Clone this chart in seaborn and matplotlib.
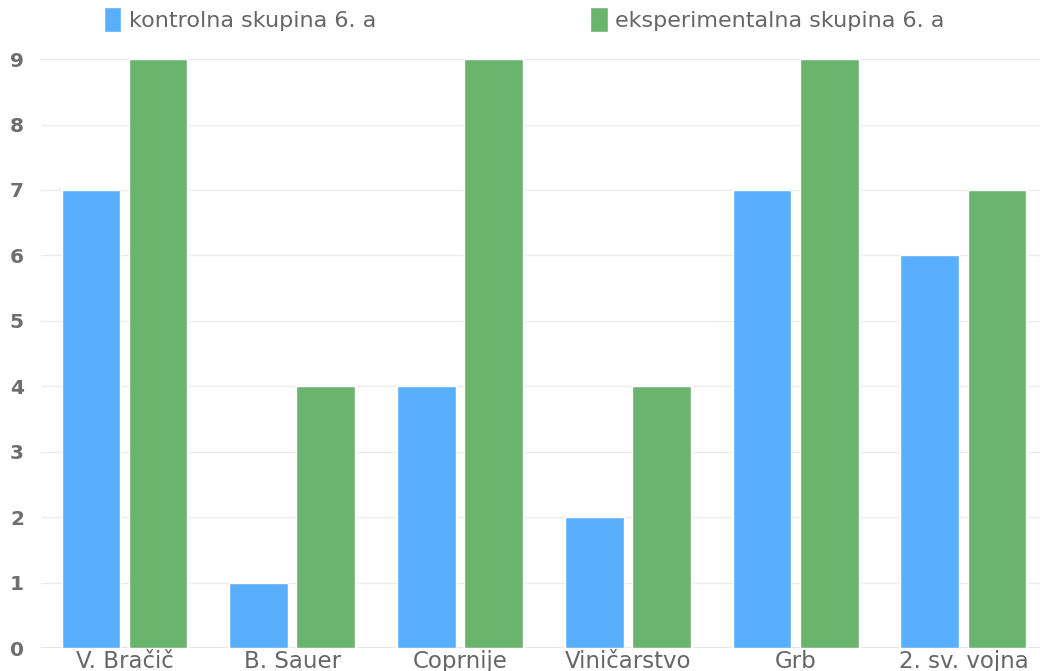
"""Grouped bar chart: kontrolna vs eksperimentalna skupina 6. a."""

import pandas as pd
import matplotlib
matplotlib.use("Agg")
import matplotlib.pyplot as plt
import seaborn as sns

# data
categories = ["V. Bračič", "B. Sauer", "Coprnije", "Viničarstvo", "Grb", "2. sv. vojna"]
kontrolna = [7, 1, 4, 2, 7, 6]
eksperimentalna = [9, 4, 9, 4, 9, 7]
series_names = ["kontrolna skupina 6. a", "eksperimentalna skupina 6. a"]
y_ticks = list(range(0, 10))

colors = ["#5aaffd", "#6ab46e"]
text_color = "#666666"

df = pd.DataFrame({
    "tema": categories * 2,
    "skupina": [series_names[0]] * len(categories) + [series_names[1]] * len(categories),
    "vrednost": kontrolna + eksperimentalna,
})

sns.set_theme(style="white")
plt.rcParams["font.family"] = ["DejaVu Sans"]

fig = plt.figure(figsize=(10.4, 6.71), dpi=100)
ax = fig.add_axes([0.039, 0.034, 0.968, 0.878])

sns.barplot(
    data=df, x="tema", y="vrednost", hue="skupina",
    hue_order=series_names, palette=colors, width=0.8,
    ax=ax, legend=True, saturation=1,
)

# narrow each bar a bit so there is a small gap inside the pair
for patch in ax.patches:
    w = patch.get_width()
    if w == 0:
        continue
    new_w = 0.35
    patch.set_x(patch.get_x() + (w - new_w) / 2)
    patch.set_width(new_w)

ax.set_xlim(-0.5, len(categories) - 0.5)
ax.set_ylim(0, 9)
ax.set_yticks(y_ticks)
ax.yaxis.grid(True, color="#ebebeb", linewidth=1)
ax.set_axisbelow(True)
for side in ["top", "right", "left", "bottom"]:
    ax.spines[side].set_visible(False)
ax.axhline(0, color="#e0e0e0", linewidth=1.2, zorder=0.5)

ax.set_xlabel("")
ax.set_ylabel("")
ax.tick_params(axis="x", length=0, pad=1, labelsize=16.5, labelcolor=text_color)
ax.tick_params(axis="y", length=0, pad=12, labelsize=14.5, labelcolor="#6e6e6e")
for lbl in ax.get_yticklabels():
    lbl.set_fontweight("bold")

handles, labels = ax.get_legend_handles_labels()
ax.get_legend().remove()
fig.legend(
    handles, labels, loc="center", bbox_to_anchor=(0.504, 0.971), ncol=2,
    frameon=False, fontsize=16, labelcolor=text_color,
    handlelength=0.8, handleheight=1.3, handletextpad=0.35, columnspacing=9.6,
)

fig.savefig("out.png", dpi=100)
